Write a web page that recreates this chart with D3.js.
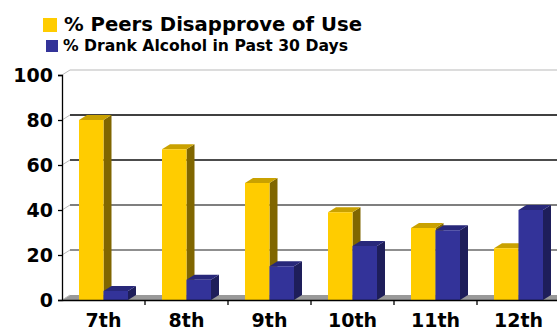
<!DOCTYPE html>
<html>
<head>
<meta charset="utf-8">
<script src="https://cdn.jsdelivr.net/npm/d3@7"></script>
<style>
  body { margin: 0; background: #fff; }
  text { font-family: "DejaVu Sans", sans-serif; font-weight: bold; fill: #000; }
</style>
</head>
<body>
<div id="chart"></div>
<script>
// data
var grades = ["7th", "8th", "9th", "10th", "11th", "12th"];
var seriesNames = ["% Peers Disapprove of Use", "% Drank Alcohol in Past 30 Days"];
var peersDisapprove = [80, 67, 52, 39, 32, 23];
var drankAlcohol = [4, 9, 15, 24, 31, 40];
var yTicks = [0, 20, 40, 60, 80, 100];

var width = 557, height = 329;
var plotLeft = 62, plotRight = 560, plotTop = 75, plotBottom = 300;
var dx = 8, dy = -5; // 3d depth

var svg = d3.select("#chart").append("svg")
    .attr("width", width)
    .attr("height", height);

var x0 = d3.scaleBand().domain(grades).range([plotLeft, plotRight]);
var x1 = d3.scaleBand().domain([0, 1]).range([17, 66]);
var y = d3.scaleLinear().domain([0, 100]).range([plotBottom, plotTop]);

var front = ["#FFCC00", "#333399"],
    side = ["#806600", "#1E1E5A"],
    topc = ["#C9A100", "#28287A"];

// floor
svg.append("path")
    .attr("d", "M" + plotLeft + "," + plotBottom + "L" + (plotLeft + dx) + "," + (plotBottom + dy) +
        "L" + (plotRight + dx) + "," + (plotBottom + dy) + "L" + plotRight + "," + plotBottom + "Z")
    .attr("fill", "#999");

// grid lines on the back wall
var gridColors = {0: "none", 20: "#6a6a6a", 40: "#555", 60: "#111", 80: "#000", 100: "#d0d0d0"};
yTicks.forEach(function(t) {
    var yy = y(t);
    if (t > 0) {
        svg.append("line")
            .attr("x1", plotLeft + dx).attr("x2", width)
            .attr("y1", yy + dy).attr("y2", yy + dy)
            .attr("stroke", gridColors[t]).attr("stroke-width", 1.3);
    }
    svg.append("line")
        .attr("x1", plotLeft).attr("y1", yy)
        .attr("x2", plotLeft + dx).attr("y2", yy + dy)
        .attr("stroke", "#bbb").attr("stroke-width", 1);
});

// y axis
svg.append("g")
    .attr("transform", "translate(" + plotLeft + ",0)")
    .call(d3.axisLeft(y).tickValues(yTicks).tickSize(4).tickPadding(5))
    .call(function(g) {
        g.select(".domain").attr("stroke", "#000").attr("stroke-width", 1.3);
        g.selectAll(".tick line").attr("stroke", "#000").attr("stroke-width", 1.3);
        g.selectAll(".tick text")
            .attr("font-size", 19)
            .attr("font-family", "DejaVu Sans")
            .attr("font-weight", "bold")
            .attr("fill", "#000");
    });

// bars
var data = [];
grades.forEach(function(g, i) {
    data.push({grade: g, s: 0, v: peersDisapprove[i]});
    data.push({grade: g, s: 1, v: drankAlcohol[i]});
});

var bw = x1.bandwidth();
var bars = svg.selectAll(".bar")
    .data(data)
    .enter().append("g")
    .attr("class", "bar");

bars.append("path")
    .attr("fill", function(d) { return side[d.s]; })
    .attr("d", function(d) {
        var xr = x0(d.grade) + x1(d.s) + bw, yt = y(d.v);
        return "M" + xr + "," + plotBottom + "L" + xr + "," + yt + "L" + (xr + dx) + "," + (yt + dy) +
            "L" + (xr + dx) + "," + (plotBottom + dy) + "Z";
    });
bars.append("path")
    .attr("fill", function(d) { return topc[d.s]; })
    .attr("d", function(d) {
        var xl = x0(d.grade) + x1(d.s), yt = y(d.v);
        return "M" + xl + "," + yt + "L" + (xl + dx) + "," + (yt + dy) + "L" + (xl + bw + dx) + "," + (yt + dy) +
            "L" + (xl + bw) + "," + yt + "Z";
    });
bars.append("rect")
    .attr("x", function(d) { return x0(d.grade) + x1(d.s); })
    .attr("y", function(d) { return y(d.v); })
    .attr("width", bw)
    .attr("height", function(d) { return plotBottom - y(d.v); })
    .attr("fill", function(d) { return front[d.s]; });

// x axis
svg.append("g")
    .attr("transform", "translate(0," + plotBottom + ")")
    .call(d3.axisBottom(x0).tickSize(0).tickPadding(14))
    .call(function(g) {
        g.select(".domain").attr("stroke", "#000").attr("stroke-width", 1.3);
        g.selectAll(".tick text")
            .attr("font-size", 19)
            .attr("font-family", "DejaVu Sans")
            .attr("font-weight", "bold")
            .attr("fill", "#000");
    });
// category separators
grades.slice(1).forEach(function(g) {
    svg.append("line")
        .attr("x1", x0(g)).attr("x2", x0(g))
        .attr("y1", plotBottom).attr("y2", plotBottom + 5)
        .attr("stroke", "#000").attr("stroke-width", 1.3);
});

// legend
var legend = [
    {name: seriesNames[0], color: front[0], sx: 43, sy: 18, ss: 14, tx: 64, ty: 31, fs: 20, len: 298},
    {name: seriesNames[1], color: front[1], sx: 46, sy: 40, ss: 12, tx: 63, ty: 51, fs: 15, len: 285}
];
legend.forEach(function(l) {
    svg.append("rect")
        .attr("x", l.sx).attr("y", l.sy)
        .attr("width", l.ss).attr("height", l.ss)
        .attr("fill", l.color);
    svg.append("text")
        .attr("x", l.tx).attr("y", l.ty)
        .attr("font-size", l.fs)
        .attr("textLength", l.len)
        .attr("lengthAdjust", "spacingAndGlyphs")
        .text(l.name);
});
</script>
</body>
</html>
